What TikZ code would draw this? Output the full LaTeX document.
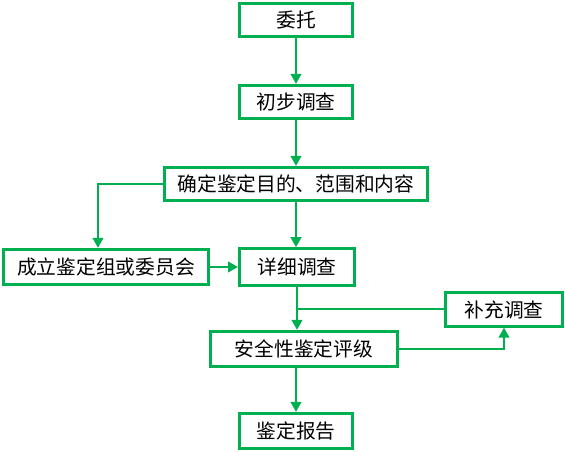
\documentclass[tikz,border=0pt]{standalone}
\usepackage{fontspec}
\newfontfamily\cjk{Noto Sans CJK SC}
\usetikzlibrary{arrows.meta,positioning,calc}
\definecolor{flowgreen}{RGB}{0,176,80}

\begin{document}
\begin{tikzpicture}[x=0.75pt,y=-0.75pt,>={Triangle[length=7.5pt,width=8pt]},
  box/.style={draw=flowgreen,line width=2.25pt,fill=white,minimum height=25pt,
    inner sep=2pt,font=\cjk\fontsize{14.8}{16}\selectfont},
  link/.style={->,flowgreen,line width=1.5pt}]

\useasboundingbox (0,0) rectangle (565,452);

\node[box,minimum width=84.75pt] (weituo) at (296,20) {委托};
\node[box,minimum width=84.75pt] (chubu) at (296,102) {初步调查};
\node[box,minimum width=197.25pt] (queding) at (296,184) {确定鉴定目的、范围和内容};
\node[box,minimum width=153.75pt,minimum height=26.5pt] (chengli) at (106,267) {成立鉴定组或委员会};
\node[box,minimum width=86.25pt,minimum height=27.5pt] (xiangxi) at (297,267) {详细调查};
\node[box,minimum width=87.75pt] (buchong) at (504,309.5) {补充调查};
\node[box,minimum width=140.25pt,minimum height=26.5pt] (anquan) at (304,349) {安全性鉴定评级};
\node[box,minimum width=84.75pt,minimum height=26.5pt] (baogao) at (296,431) {鉴定报告};

\draw[link] (weituo)--(chubu);
\draw[link] (chubu)--(queding);
\draw[link] (queding)--(queding |- xiangxi.north);
\draw[link] (queding.west) -| ([xshift=-6pt]chengli.north);
\draw[link] (chengli)--(xiangxi);
\draw[link] (xiangxi.south)--(xiangxi.south |- anquan.north);
\draw[flowgreen,line width=1.5pt] (buchong.west)--(buchong.west -| xiangxi.south);
\draw[link] (anquan.east) -| (buchong.south);
\draw[link] (anquan.south -| baogao.north)--(baogao.north);

\end{tikzpicture}
\end{document}
